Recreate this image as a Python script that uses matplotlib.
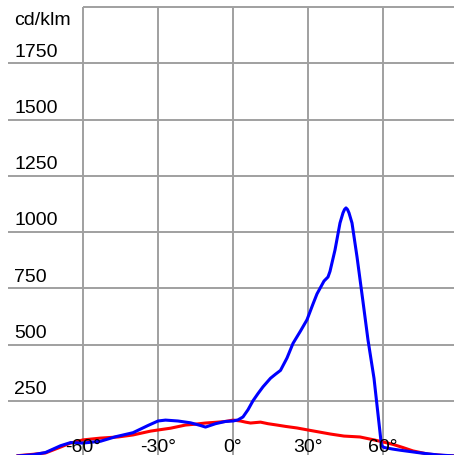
import matplotlib
matplotlib.use("Agg")
import matplotlib.pyplot as plt

# ---- data ----
blue_deg = [-86, -80, -75, -69, -65, -60, -53, -47, -40, -34, -30, -27, -22, -17, -13,
            -11, -7, -3, 0, 2, 4, 6, 8, 10, 12, 15, 17, 19, 21.6, 24, 27, 29.6, 32, 33.6,
            36.4, 38, 38.8, 40.8, 42.8, 44, 44.6, 45.2, 45.8, 46.4, 47.6, 49.6, 52, 54,
            56.4, 58.8, 59.4, 60.5, 64, 67, 71, 75, 82, 90]
blue_val = [5, 10, 20, 50, 64, 62, 70, 90, 108, 140, 160, 164, 160, 152, 140,
            133, 148, 158, 160, 165, 178, 210, 250, 282, 312, 350, 368, 385, 440, 505, 560,
            610, 680, 725, 782, 800, 825, 920, 1040, 1085, 1100, 1107, 1100, 1085, 1040,
            890, 690, 520, 350, 110, 50, 42, 35, 30, 24, 18, 9, 4]
red_deg = [-86, -80, -75, -69, -65, -60, -53, -46, -40, -33, -30, -25, -19, -15,
           -11, -6, -3, 0, 3, 5, 7, 11, 14, 17.6, 21, 25.6, 30, 34, 39, 44.4,
           50.8, 56.4, 60, 64, 68, 72, 78, 84, 90]
red_val = [6, 12, 18, 44, 62, 76, 84, 89, 98, 115, 120, 128, 142, 146,
           151, 155, 158, 164, 160, 155, 151, 155, 148, 142, 136, 129, 120, 112, 102, 93,
           89, 76, 67, 56, 42, 27, 13, 7, 4]
x_ticks = [-60, -30, 0, 30, 60]
x_labels = ["-60°", "-30°", "0°", "30°", "60°"]
y_ticks = [250, 500, 750, 1000, 1250, 1500, 1750]
unit = "cd/klm"

W, H = 454, 455
fig = plt.figure(figsize=(W / 100, H / 100), dpi=100)
ax = fig.add_axes([8 / W, -2 / H, 450 / W, 450 / H])
ax.set_xlim(-90, 90)
ax.set_ylim(0, 2000)
ax.axis("off")

grid_kw = dict(color="#a0a0a0", lw=1.4, zorder=1)
for x in x_ticks:
    ax.axvline(x, **grid_kw)
for y in y_ticks:
    ax.axhline(y, **grid_kw)
ax.hlines(2000, -60, 90, clip_on=False, **grid_kw)

ax.plot(red_deg, red_val, color="#ff0000", lw=2.2, zorder=3)
ax.plot(blue_deg, blue_val, color="#0000ff", lw=2.2, zorder=4)

font = dict(family=["Liberation Sans", "DejaVu Sans"], fontsize=14, color="black")
for y in y_ticks:
    ax.text(-87.6, y + 12, str(y), ha="left", va="bottom", zorder=5, **font)
ax.text(-87.6, 1920, unit, ha="left", va="baseline", zorder=5, **font)
for x, lab in zip(x_ticks, x_labels):
    ax.text(x, 22, lab, ha="center", va="baseline", zorder=5, **font)

fig.savefig("out.png", dpi=100)
